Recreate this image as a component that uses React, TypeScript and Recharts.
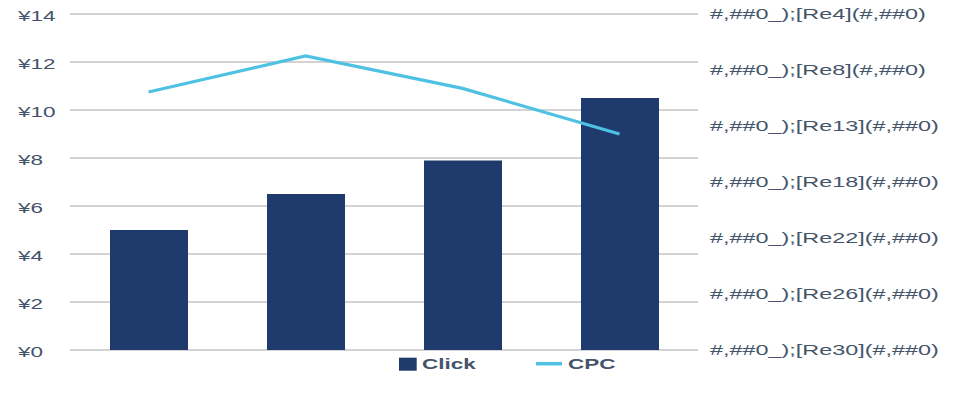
import React from "react";
import {
  ComposedChart,
  Bar,
  Line,
  XAxis,
  YAxis,
  CartesianGrid,
  Legend,
} from "recharts";

const categories = ["1", "2", "3", "4"];
const clickValues = [5.0, 6.5, 7.9, 10.5];
const cpcValues = [10.75, 12.25, 10.9, 9.0];
const leftTicks = [0, 2, 4, 6, 8, 10, 12, 14];
const rightTickLabels = [
  "#,##0_);[Re30](#,##0)",
  "#,##0_);[Re26](#,##0)",
  "#,##0_);[Re22](#,##0)",
  "#,##0_);[Re18](#,##0)",
  "#,##0_);[Re13](#,##0)",
  "#,##0_);[Re8](#,##0)",
  "#,##0_);[Re4](#,##0)",
];
const AXIS_MAX = 14;
const rightTicks = rightTickLabels.map(
  (_, i) => (AXIS_MAX * i) / (rightTickLabels.length - 1)
);

const data = categories.map((c, i) => ({
  name: c,
  Click: clickValues[i],
  CPC: cpcValues[i],
}));

const TEXT = "#44546a";
const BAR = "#1f3b6e";
const LINE = "#4fc1e3";
const FONT = "'Liberation Sans', Arial, sans-serif";
const SX = 1.5;
const SX_RIGHT = 1.56;

const LeftTick = (props: any) => {
  const { y, payload } = props;
  return (
    <text
      transform={`translate(18,${y + 6.6}) scale(${SX},1)`}
      x={0}
      y={0}
      fill={TEXT}
      fontSize={15}
      fontFamily={FONT}
      textAnchor="start"
    >
      {`¥${payload.value}`}
    </text>
  );
};

const RightTick = (props: any) => {
  const { y, payload } = props;
  const idx = rightTicks.findIndex((t) => Math.abs(t - payload.value) < 1e-6);
  return (
    <text
      transform={`translate(710,${y + 5.3}) scale(${SX_RIGHT},1)`}
      x={0}
      y={0}
      fill={TEXT}
      fontSize={15}
      fontFamily={FONT}
      textAnchor="start"
    >
      {rightTickLabels[idx]}
    </text>
  );
};

const LegendContent = () => (
  <svg width={966} height={30} style={{ display: "block" }}>
    <rect x={399} y={7.7} width={17.7} height={13} fill={BAR} />
    <text
      transform={`translate(422,19.4) scale(${SX},1)`}
      fill={TEXT}
      fontSize={15}
      fontWeight="bold"
      fontFamily={FONT}
    >
      Click
    </text>
    <line x1={536} x2={562} y1={13.7} y2={13.7} stroke={LINE} strokeWidth={3.5} />
    <text
      transform={`translate(568,19.4) scale(${SX},1)`}
      fill={TEXT}
      fontSize={15}
      fontWeight="bold"
      fontFamily={FONT}
    >
      CPC
    </text>
  </svg>
);

export default function App() {
  return (
    <div style={{ position: "absolute", left: 0, top: 0, width: 966, height: 406, background: "#fff" }}>
      <ComposedChart
        width={966}
        height={406}
        data={data}
        margin={{ top: 14, right: 0, left: 0, bottom: 56 }}
      >
        <CartesianGrid
          yAxisId="left"
          vertical={false}
          stroke="#c4c4c4"
          strokeWidth={1.4}
        />
        <XAxis dataKey="name" hide />
        <YAxis
          yAxisId="left"
          orientation="left"
          width={70}
          domain={[0, AXIS_MAX]}
          ticks={leftTicks}
          axisLine={false}
          tickLine={false}
          tick={<LeftTick />}
          interval={0}
        />
        <YAxis
          yAxisId="right"
          orientation="right"
          width={268}
          domain={[0, AXIS_MAX]}
          ticks={rightTicks}
          axisLine={false}
          tickLine={false}
          tick={<RightTick />}
          interval={0}
        />
        <Bar
          yAxisId="left"
          dataKey="Click"
          fill={BAR}
          barSize={78}
          isAnimationActive={false}
        />
        <Line
          yAxisId="right"
          dataKey="CPC"
          type="linear"
          stroke={LINE}
          strokeWidth={3.2}
          dot={false}
          activeDot={false}
          isAnimationActive={false}
        />
        <Legend
          layout="horizontal"
          verticalAlign="middle"
          align="center"
          content={<LegendContent />}
          wrapperStyle={{ left: 0, top: 350, width: 966, height: 30 }}
        />
      </ComposedChart>
    </div>
  );
}
